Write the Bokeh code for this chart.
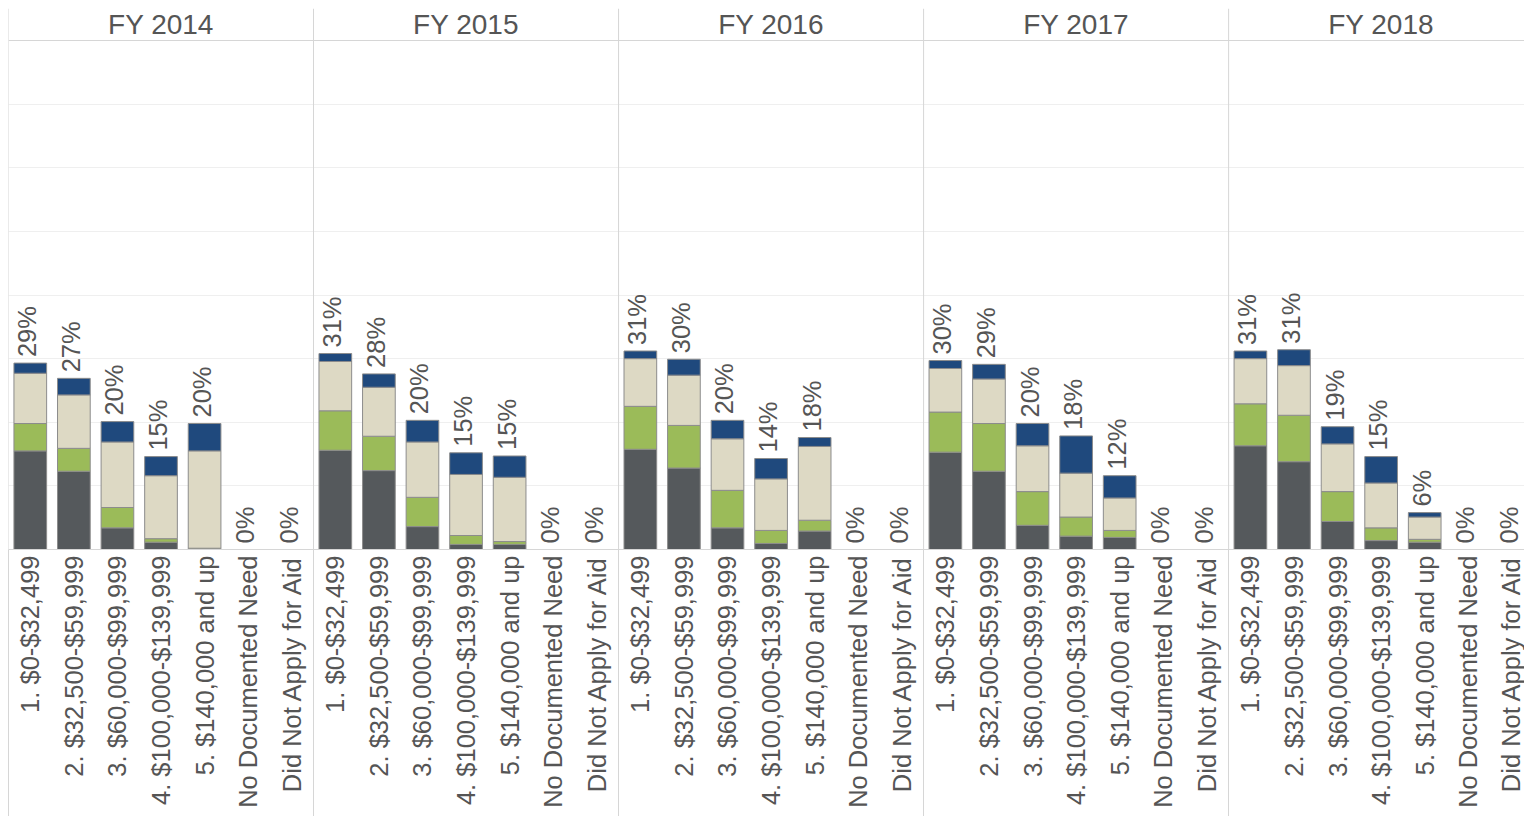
import math
from bokeh.plotting import figure
from bokeh.models import ColumnDataSource, Range1d, FixedTicker, Span
from bokeh.core.properties import value
from bokeh.embed import file_html
from bokeh.resources import INLINE

years = ["FY 2014", "FY 2015", "FY 2016", "FY 2017", "FY 2018"]
categories = ["1. $0-$32,499", "2. $32,500-$59,999", "3. $60,000-$99,999",
              "4. $100,000-$139,999", "5. $140,000 and up",
              "No Documented Need", "Did Not Apply for Aid"]

# stacked segments (bottom -> top), one row per fiscal year, values in %
seg_dark = [
    [15.5, 12.3, 3.4, 1.15, 0.0, 0, 0],
    [15.6, 12.4, 3.6, 0.8, 0.8, 0, 0],
    [15.75, 12.8, 3.4, 0.95, 2.9, 0, 0],
    [15.3, 12.3, 3.8, 2.1, 1.9, 0, 0],
    [16.3, 13.8, 4.4, 1.4, 1.15, 0, 0],
]
seg_green = [
    [4.3, 3.6, 3.2, 0.55, 0.2, 0, 0],
    [6.2, 5.4, 4.6, 1.4, 0.45, 0, 0],
    [6.75, 6.7, 5.9, 2.05, 1.7, 0, 0],
    [6.3, 7.5, 5.3, 3.0, 1.1, 0, 0],
    [6.6, 7.3, 4.7, 2.0, 0.45, 0, 0],
]
seg_beige = [
    [7.9, 8.4, 10.3, 9.9, 15.3, 0, 0],
    [7.75, 7.7, 8.7, 9.6, 10.1, 0, 0],
    [7.5, 7.9, 8.1, 8.1, 11.6, 0, 0],
    [6.85, 7.0, 7.2, 6.9, 5.1, 0, 0],
    [7.1, 7.8, 7.5, 7.05, 3.5, 0, 0],
]
seg_navy = [
    [1.6, 2.6, 3.2, 3.0, 4.3, 0, 0],
    [1.25, 2.1, 3.4, 3.4, 3.35, 0, 0],
    [1.2, 2.5, 2.9, 3.2, 1.4, 0, 0],
    [1.25, 2.3, 3.5, 5.85, 3.5, 0, 0],
    [1.2, 2.5, 2.7, 4.15, 0.7, 0, 0],
]

colors = ["#55595c", "#9bbb59", "#ddd9c4", "#1f497d"]
TXT = "#555555"
FONT = "Liberation Sans"

ncat = len(categories)
bar = {"x": [], "dark": [], "green": [], "beige": [], "navy": []}
lab = {"x": [], "y": [], "text": []}
ticks, overrides = [], {}
for yi, yr in enumerate(years):
    for ci, cat in enumerate(categories):
        xpos = yi * ncat + ci
        ticks.append(xpos)
        overrides[xpos] = cat
        d, g, b, n = seg_dark[yi][ci], seg_green[yi][ci], seg_beige[yi][ci], seg_navy[yi][ci]
        tot = d + g + b + n
        if tot > 0:
            bar["x"].append(xpos)
            bar["dark"].append(d)
            bar["green"].append(g)
            bar["beige"].append(b)
            bar["navy"].append(n)
        lab["x"].append(xpos)
        lab["y"].append(tot)
        lab["text"].append(f"{int(math.floor(tot + 0.5 + 1e-9))}%")

src = ColumnDataSource(bar)
lsrc = ColumnDataSource(lab)
tsrc = ColumnDataSource({"x": [yi * ncat + (ncat - 1) / 2 for yi in range(len(years))],
                         "y": [82.52] * len(years), "text": years})

BOTTOM = 267
p = figure(width=1524, height=816, x_range=Range1d(-0.5, 34.29), y_range=Range1d(0, 85.03),
           toolbar_location=None, output_backend="svg",
           min_border_left=8, min_border_right=0, min_border_top=8, min_border_bottom=BOTTOM)
p.outline_line_color = None
p.background_fill_color = "white"
p.border_fill_color = "white"

p.yaxis.visible = False
p.xgrid.visible = False
p.ygrid.ticker = FixedTicker(ticks=[10, 20, 30, 40, 50, 60, 70])
p.ygrid.grid_line_color = "#efefef"

TICK_OUT = BOTTOM
p.xaxis.ticker = FixedTicker(ticks=ticks,
                             minor_ticks=[yi * ncat - 0.5 for yi in range(len(years))])
p.xaxis.major_label_overrides = overrides
p.xaxis.major_label_orientation = math.pi / 2
p.xaxis.major_label_text_font = FONT
p.xaxis.major_label_text_font_size = "25.5px"
p.xaxis.major_label_text_color = TXT
p.xaxis.major_label_standoff = 6 - TICK_OUT
p.xaxis.major_tick_line_color = None
p.xaxis.minor_tick_in = 0
p.xaxis.minor_tick_out = TICK_OUT
p.xaxis.minor_tick_line_color = "#d6d6d6"
p.xaxis.axis_line_color = "#d6d6d6"

# header separator and panel separators
p.add_layout(Span(location=80, dimension="width", line_color="#d6d6d6", line_width=1))
for yi in range(len(years)):
    p.add_layout(Span(location=yi * ncat - 0.5, dimension="height",
                      line_color="#d6d6d6", line_width=1))

p.vbar_stack(["dark", "green", "beige", "navy"], x="x", width=0.75, color=colors,
             line_color="#8c8c8c", line_width=1, source=src)

p.text(x="x", y="y", text="text", source=lsrc, angle=math.pi / 2,
       text_align="left", text_baseline="middle", y_offset=-6, x_offset=-3,
       text_font=value(FONT), text_font_size="25.5px", text_color=TXT)

p.text(x="x", y="y", text="text", source=tsrc, text_align="center", text_baseline="middle",
       text_font=value(FONT), text_font_size="28px", text_color=TXT)

open("out.html", "w").write(file_html(p, INLINE))
